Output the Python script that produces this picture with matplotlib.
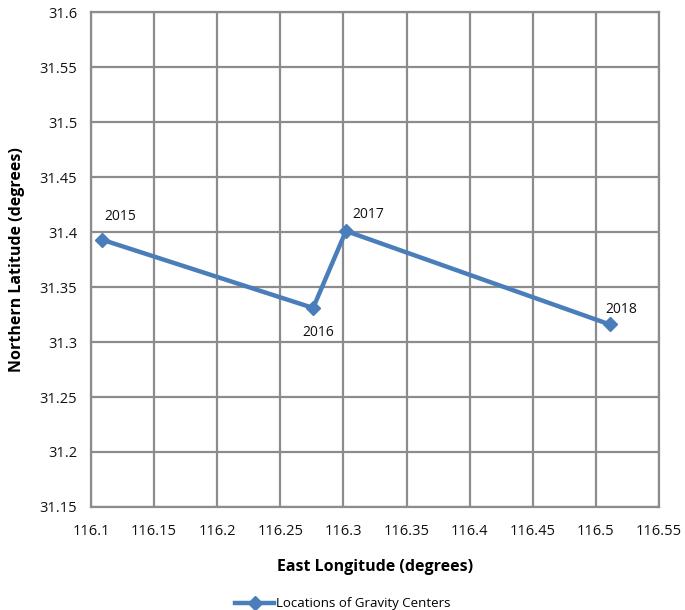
import matplotlib
matplotlib.use("Agg")
import matplotlib.pyplot as plt
import numpy as np

years = ["2015", "2016", "2017", "2018"]
lon = [116.109, 116.276, 116.302, 116.511]
lat = [31.393, 31.331, 31.401, 31.316]
label_offsets_px = [(18, 23), (5, -25), (22, 16), (12, 15)]

xticks = np.round(np.arange(116.10, 116.551, 0.05), 2)
yticks = np.round(np.arange(31.15, 31.601, 0.05), 2)

plt.rcParams['font.family'] = ['Open Sans', 'DejaVu Sans']

fig = plt.figure(figsize=(6.85, 6.1), dpi=100)
ax = fig.add_axes([0.1328, 0.1689, 0.962 - 0.1328, 0.980 - 0.1689])

blue = '#4A7EBB'
grid_c = '#8C8C8C'
ax.plot(lon, lat, color=blue, lw=3.2, marker='D', ms=7, mfc=blue, mec=blue,
        label='Locations of Gravity Centers', zorder=3)

for y, x, t, (dx, dy) in zip(years, lon, lat, label_offsets_px):
    ax.annotate(y, (x, t), xytext=(dx, dy), textcoords='offset pixels',
                ha='center', va='center', fontsize=10, color='#111111')

ax.set_xlim(116.10, 116.55)
ax.set_ylim(31.15, 31.60)
ax.set_xticks(xticks)
ax.set_yticks(yticks)
ax.set_xticklabels([f"{v:g}" for v in xticks])
ax.set_yticklabels([f"{v:g}" for v in yticks])
ax.tick_params(axis='x', length=0, labelsize=10.5, colors='#111111', pad=12)
ax.tick_params(axis='y', length=0, labelsize=10.5, colors='#111111', pad=10)
ax.grid(True, color=grid_c, lw=1.6)
ax.set_axisbelow(True)
for s in ax.spines.values():
    s.set_color(grid_c)
    s.set_linewidth(1.6)

ax.set_xlabel('East Longitude (degrees)', fontsize=11.5, fontweight='bold', labelpad=15)
ax.set_ylabel('Northern Latitude (degrees)', fontsize=11.5, fontweight='bold', labelpad=10)

fig.legend(loc='center', bbox_to_anchor=(0.5, 0.01), frameon=False, fontsize=9.5,
           handlelength=3, handletextpad=0.1)

fig.savefig('out.png', dpi=100)
